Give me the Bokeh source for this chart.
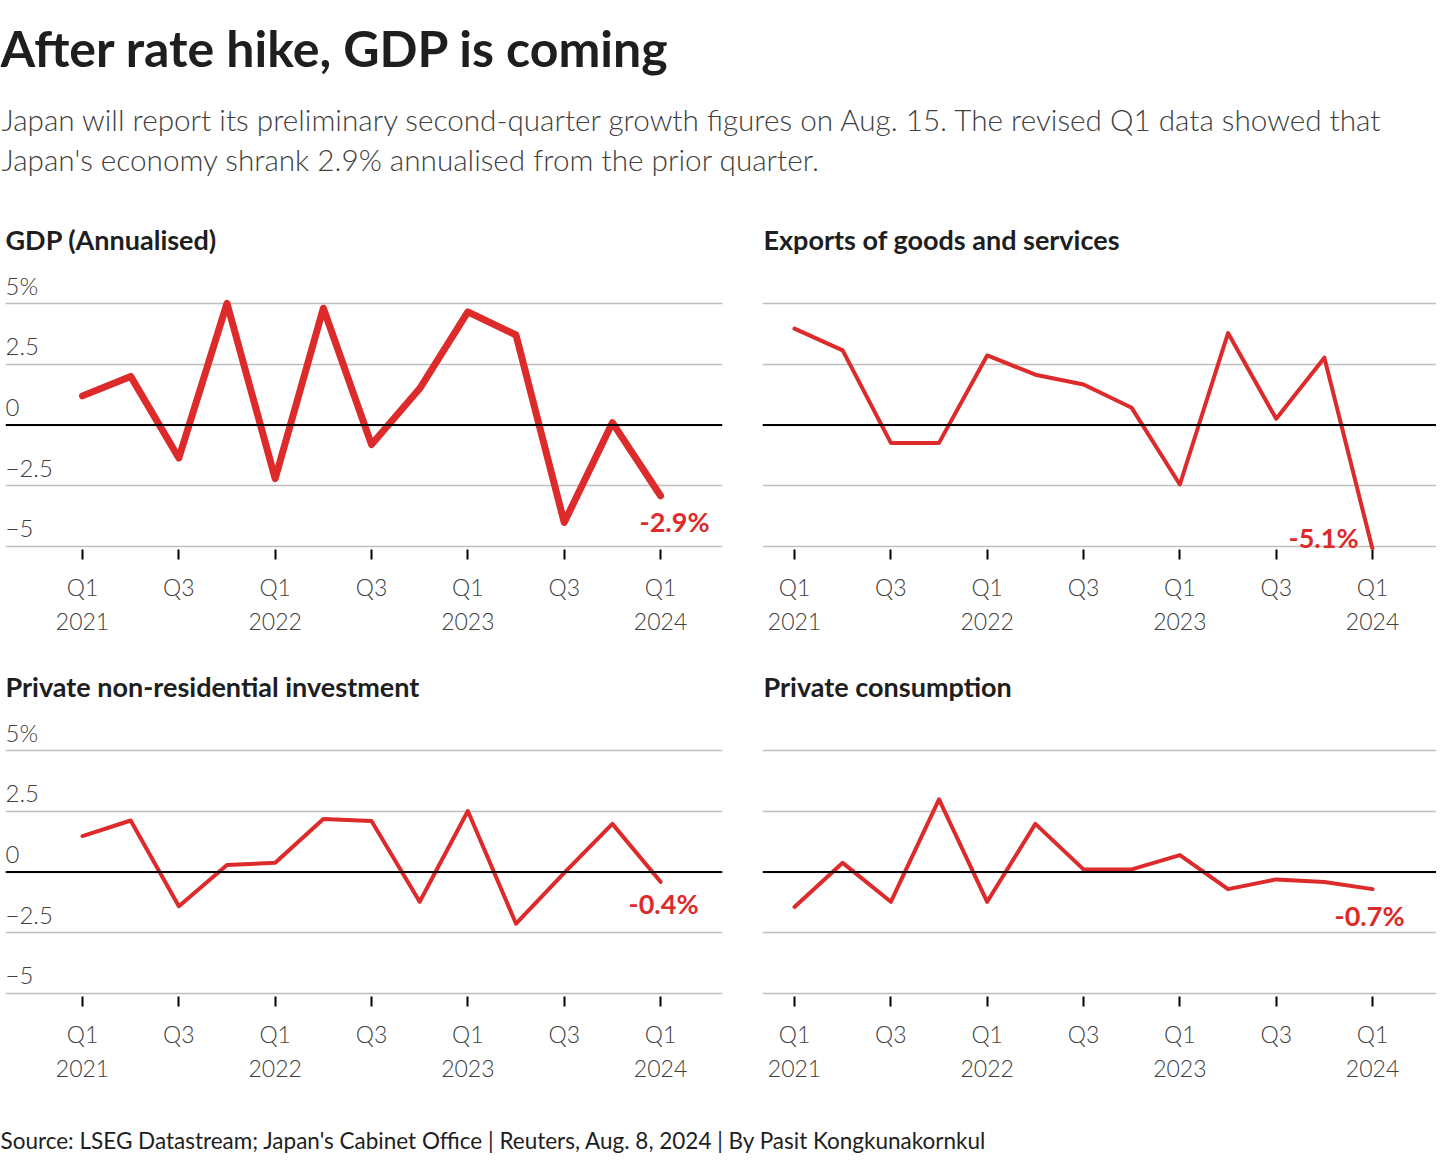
from bokeh.plotting import figure
from bokeh.models import Range1d, FixedTicker, Span
from bokeh.layouts import column, row
from bokeh.embed import file_html
from bokeh.resources import INLINE
from bokeh.core.properties import value

# ---------------- data ----------------
quarters = list(range(13))  # Q1 2021 .. Q1 2024
x_tick_positions = [0, 2, 4, 6, 8, 10, 12]
x_tick_labels = ["Q1\n2021", "Q3", "Q1\n2022", "Q3", "Q1\n2023", "Q3", "Q1\n2024"]
y_ticks = [-5, -2.5, 0, 2.5, 5]
y_tick_labels = ["\u22125", "\u22122.5", "0", "2.5", "5%"]

gdp = [1.2, 2.0, -1.35, 5.0, -2.2, 4.8, -0.8, 1.5, 4.65, 3.7, -4.0, 0.1, -2.9]
exports = [3.96, 3.07, -0.73, -0.73, 2.86, 2.07, 1.67, 0.71, -2.44, 3.78, 0.26, 2.77, -5.1]
investment = [1.48, 2.12, -1.4, 0.29, 0.38, 2.18, 2.1, -1.22, 2.51, -2.12, -0.03, 1.98, -0.4]
consumption = [-1.43, 0.38, -1.22, 2.99, -1.22, 1.98, 0.11, 0.11, 0.7, -0.7, -0.3, -0.41, -0.7]

panel_titles = ["GDP (Annualised)", "Exports of goods and services",
                "Private non-residential investment", "Private consumption"]
end_labels = ["-2.9%", "-5.1%", "-0.4%", "-0.7%"]

title_text = "After rate hike, GDP is coming"
subtitle_lines = ["Japan will report its preliminary second-quarter growth figures on Aug. 15. The revised Q1 data showed that",
                  "Japan's economy shrank 2.9% annualised from the prior quarter."]
source_text = "Source: LSEG Datastream; Japan's Cabinet Office | Reuters, Aug. 8, 2024 | By Pasit Kongkunakornkul"

# ---------------- style ----------------
RED = "#dd2a2a"
DARK = "#1e1e1e"
GREY_TXT = "#404040"
GRID = "#bfbfbf"
FONT = "Lato"
FONT_LIGHT = "Lato Light"
BASE_SHIFT = 0.37   # rendered baseline sits this many em below the anchor

PX_Q = 48.17      # pixels per quarter
PX_U = 24.35      # pixels per percentage point
FIG_H = 447
ZERO_FROM_TOP = 221.6
FRAME_BOTTOM_FROM_TOP = 346


def panel(data, title, label, left, thick, lab_dx, lab_dy):
    width = 742 if left else 694
    mb_left = 5 if left else 20
    mb_right = 20 if left else 0
    frame_w = width - mb_left - mb_right
    x_start = -(77 if left else 32) / PX_Q
    x_end = x_start + frame_w / PX_Q
    y_end = ZERO_FROM_TOP / PX_U
    y_start = -(FRAME_BOTTOM_FROM_TOP - ZERO_FROM_TOP) / PX_U
    p = figure(width=width, height=FIG_H, x_range=Range1d(x_start, x_end),
               y_range=Range1d(y_start, y_end), toolbar_location=None,
               output_backend="svg", y_axis_location=None,
               min_border_left=mb_left, min_border_right=mb_right,
               min_border_top=0, min_border_bottom=FIG_H - FRAME_BOTTOM_FROM_TOP)
    p.outline_line_color = None
    p.background_fill_color = "white"
    p.border_fill_color = "white"
    p.xgrid.visible = False
    p.ygrid.ticker = FixedTicker(ticks=y_ticks)
    p.ygrid.grid_line_color = GRID
    p.ygrid.grid_line_width = 1.5

    ax = p.xaxis[0]
    ax.ticker = FixedTicker(ticks=x_tick_positions)
    ax.major_label_overrides = {t: l for t, l in zip(x_tick_positions, x_tick_labels)}
    ax.axis_line_color = None
    ax.major_tick_in = 0
    ax.major_tick_out = 10
    ax.major_tick_line_color = "black"
    ax.major_tick_line_width = 2
    ax.minor_tick_line_color = None
    ax.major_label_standoff = 13
    ax.major_label_text_font = FONT_LIGHT
    ax.major_label_text_font_size = "23px"
    ax.major_label_text_color = GREY_TXT
    ax.major_label_text_line_height = 1.22

    p.add_layout(Span(location=0, dimension="width", line_color="black", line_width=2))

    p.line(quarters, data, line_color=RED, line_width=thick, line_join="round", line_cap="round")

    # panel title (baseline 46px below figure top)
    ts = 27
    title_y = (ZERO_FROM_TOP - (46 - BASE_SHIFT * ts)) / PX_U
    p.text(x=[x_start], y=[title_y], text=[title], text_font=value(FONT),
           text_font_style="bold", text_font_size=f"{ts}px", text_color=DARK,
           text_baseline="alphabetic", text_align="left", x_offset=0 if left else 1)

    if left:
        ys = 24
        p.text(x=[x_start] * len(y_ticks), y=y_ticks, text=y_tick_labels,
               text_font=value(FONT_LIGHT), text_font_size=f"{ys}px", text_color=GREY_TXT,
               text_baseline="alphabetic", text_align="left",
               y_offset=-(9 + BASE_SHIFT * ys))

    ls = 27
    p.text(x=[quarters[-1]], y=[data[-1]], text=[label], text_font=value(FONT),
           text_font_style="bold", text_font_size=f"{ls}px", text_color=RED,
           text_baseline="alphabetic", text_align="right", x_offset=lab_dx,
           y_offset=lab_dy - BASE_SHIFT * ls)
    return p


def text_fig(width, height, lines):
    p = figure(width=width, height=height, x_range=Range1d(0, width), y_range=Range1d(height, 0),
               toolbar_location=None, output_backend="svg", x_axis_location=None,
               y_axis_location=None, min_border=0)
    p.outline_line_color = None
    p.xgrid.visible = False
    p.ygrid.visible = False
    for (x, y, txt, font, size, style, color) in lines:
        p.text(x=[x], y=[y - BASE_SHIFT * size], text=[txt], text_font=value(font),
               text_font_size=f"{size}px", text_font_style=style, text_color=color,
               text_baseline="alphabetic", text_align="left")
    return p


header = text_fig(1436, 203, [
    (0, 65.5, title_text, FONT, 50, "bold", DARK),
    (1, 129.7, subtitle_lines[0], FONT_LIGHT, 29.7, "normal", GREY_TXT),
    (1, 169.7, subtitle_lines[1], FONT_LIGHT, 29.7, "normal", GREY_TXT),
])

p1 = panel(gdp, panel_titles[0], end_labels[0], True, 7, 49, 36)
p2 = panel(exports, panel_titles[1], end_labels[1], False, 4, -14, -1.3)
p3 = panel(investment, panel_titles[2], end_labels[2], True, 4, 38, 32)
p4 = panel(consumption, panel_titles[3], end_labels[3], False, 4, 32, 36)

footer = text_fig(1436, 63, [
    (0, 51, source_text, FONT, 22.5, "normal", DARK),
])

layout = column(header, row(p1, p2), row(p3, p4), footer)

open("out.html", "w").write(file_html(layout, INLINE))
